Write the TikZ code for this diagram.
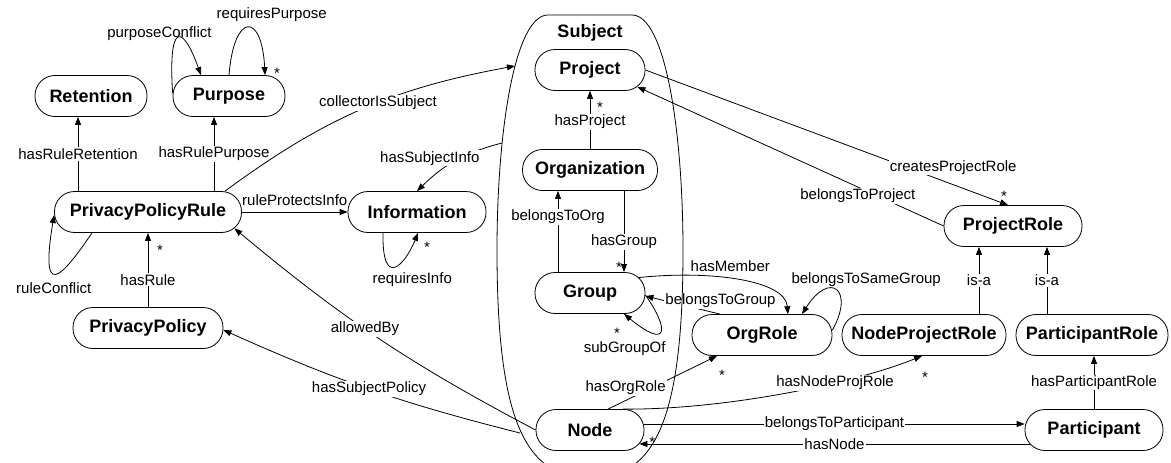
\documentclass[tikz,border=0pt]{standalone}
\usepackage{fontspec}
\setmainfont{Liberation Sans}
\usetikzlibrary{arrows.meta, positioning, calc}

\begin{document}
\begin{tikzpicture}[x=1pt, y=-1pt,
  concept/.style={draw, line width=0.8pt, rounded corners=20pt, minimum height=41pt, inner xsep=6pt, font=\bfseries\fontsize{18}{20}\selectfont},
  rel/.style={line width=0.8pt, -{Triangle[length=8pt, width=6pt]}},
  lbl/.style={fill=white, inner sep=1pt, font=\fontsize{15}{17}\selectfont},
  side/.style={lbl, fill=none},
  mult/.style={inner sep=0pt, font=\fontsize{15}{17}\selectfont}]
  \useasboundingbox (0,0) rectangle (1171,463);

  % Policy side
  \node[concept, minimum width=112pt] (ret) at (91,96) {Retention};
  \node[concept, minimum width=112pt] (purp) at (229,96) {Purpose};
  \node[concept, minimum width=187pt] (rule) at (148,212) {PrivacyPolicyRule};
  \node[concept, minimum width=138pt] (info) at (417,212) {Information};
  \node[concept, minimum width=150pt] (policy) at (148,328) {PrivacyPolicy};

  % Subject members
  \node[font=\bfseries\fontsize{18}{20}\selectfont] (subj) at (590,33) {Subject};
  \node[concept, minimum width=110pt] (proj) at (590,70) {Project};
  \node[concept, minimum width=135pt] (org) at (590,170) {Organization};
  \node[concept, minimum width=110pt] (grp) at (590,293) {Group};
  \node[concept, minimum width=108pt] (nd) at (590,430) {Node};

  % Roles
  \node[concept, minimum width=140pt] (orole) at (762,335) {OrgRole};
  \node[concept, minimum width=164pt] (nprole) at (924,335) {NodeProjectRole};
  \node[concept, minimum width=152pt] (parole) at (1092,335) {ParticipantRole};
  \node[concept, minimum width=138pt] (prole) at (1013,226) {ProjectRole};
  \node[concept, minimum width=138pt] (part) at (1094,430) {Participant};

  % Points on the Subject outline
  \coordinate (subjA) at (515,66);
  \coordinate (subjB) at (502,143);
  \coordinate (subjC) at (520,433);

  % Rule relations
  \draw[rel] ([xshift=-70pt]rule.north) -- ([xshift=-70pt]rule.north |- ret.south) node[lbl, midway] {hasRuleRetention};
  \draw[rel] ([xshift=66pt]rule.north) -- ([xshift=66pt]rule.north |- purp.south) node[lbl, midway] {hasRulePurpose};
  \draw[rel] ([yshift=3pt]purp.west) .. controls (168,20) and (183,25) .. ([xshift=-28pt]purp.north)
    node[side, pos=0.4, xshift=-16pt, yshift=7pt] {purposeConflict};
  \draw[rel] (purp.north) .. controls (234,12) and (262,12) .. ([xshift=36pt]purp.north)
    node[side, pos=0.5, xshift=24pt, yshift=13pt] {requiresPurpose}
    node[mult, pos=1, xshift=12pt, yshift=2pt] {*};
  \draw[rel] (rule.east) -- (info.west) node[side, midway, above=5pt] {ruleProtectsInfo};
  \draw[rel] ([xshift=77pt]rule.north) to[bend left=13] node[lbl, pos=0.56] {collectorIsSubject} (subjA);
  \draw[rel] (subjB) to[bend right=15] node[lbl, pos=0.45, xshift=-30pt] {hasSubjectInfo} (info.north);
  \draw[rel] ([xshift=-34pt]info.south) .. controls (382,290) and (405,265) .. ([xshift=1pt]info.south)
    node[side, pos=0.5, xshift=17pt, yshift=-13pt] {requiresInfo}
    node[mult, pos=1, xshift=9pt, yshift=-14pt] {*};
  \draw[rel] ([xshift=-56pt]rule.south) .. controls (60,280) and (40,300) .. ([yshift=-3pt]rule.west)
    node[side, pos=0.5, xshift=-2pt, yshift=-15pt] {ruleConflict};
  \draw[rel] (policy.north) -- (rule.south) node[lbl, pos=0.37] {hasRule}
    node[mult, pos=1, xshift=12pt, yshift=-17pt] {*};
  \draw[rel] (nd.west) to[bend left=6] node[lbl, pos=0.55] {allowedBy} ([xshift=-7.5pt, yshift=4.5pt]rule.south east);
  \draw[rel] (subjC) to[bend left=5] node[lbl] {hasSubjectPolicy} ([yshift=-2pt]policy.east);

  % Inside the subject
  \draw[rel] (org.north) -- (proj.south) node[lbl, pos=0.47] {hasProject}
    node[mult, pos=1, xshift=10pt, yshift=-16pt] {*};
  \draw[rel] ([xshift=-32pt]grp.north) -- ([xshift=-32pt]grp.north |- org.south) node[lbl, pos=0.68] {belongsToOrg};
  \draw[rel] ([xshift=34pt]org.south) -- ([xshift=34pt]org.south |- grp.north) node[lbl, pos=0.63] {hasGroup}
    node[mult, pos=1, xshift=-5pt, yshift=5pt] {*};
  \draw[rel] ([yshift=-2pt]grp.east) .. controls (670,330) and (668,350) .. ([xshift=34pt]grp.south)
    node[side, pos=0.7, xshift=-28pt, yshift=-16pt] {subGroupOf}
    node[mult, pos=1, xshift=-7pt, yshift=-19pt] {*};

  % Group and roles
  \draw[rel] ([xshift=-7pt, yshift=-5.5pt]grp.north east) .. controls (710,270) and (785,280) .. ([xshift=26pt]orole.north)
    node[side, pos=0.45, above=6pt] {hasMember};
  \draw[rel] ([xshift=-42pt]orole.north) -- ([yshift=-3pt]grp.east) node[lbl, pos=0.75, anchor=west] {belongsToGroup};
  \draw[rel] ([yshift=5pt]orole.east) .. controls (855,290) and (830,270) .. ([xshift=40pt]orole.north)
    node[side, pos=0.5, xshift=30pt, yshift=11pt] {belongsToSameGroup};
  \draw[rel] ([xshift=18pt]nd.north) -- ([xshift=-45pt]orole.south) node[lbl, pos=0.4, xshift=-26pt] {hasOrgRole}
    node[mult, pos=1, xshift=5pt, yshift=-19pt] {*};
  \draw[rel] ([xshift=33pt]nd.north) .. controls (720,410) and (850,385) .. ([xshift=-2pt]nprole.south)
    node[lbl, pos=0.67] {hasNodeProjRole}
    node[mult, pos=1, xshift=3pt, yshift=-21pt] {*};
  \draw[rel] ([yshift=6pt]nd.east) -- ([yshift=6pt]part.west) node[lbl, midway] {belongsToParticipant};
  \draw[rel] ([xshift=5pt, yshift=-14pt]part.west) -- ([xshift=-5pt, yshift=-14pt]nd.east) node[lbl, midway] {hasNode}
    node[mult, pos=1, xshift=13pt, yshift=2pt] {*};

  % Project roles
  \draw[rel] (prole.west) -- ([xshift=-8pt, yshift=4pt]proj.south east) node[lbl, pos=0.28, yshift=-9pt] {belongsToProject};
  \draw[rel] (proj.east) -- ([xshift=-5pt]prole.north) node[lbl, pos=0.72, anchor=west, xshift=-18pt] {createsProjectRole}
    node[mult, pos=1, xshift=-4pt, yshift=9pt] {*};
  \draw[rel] ([xshift=55pt]nprole.north) -- ([xshift=55pt]nprole.north |- prole.south) node[lbl, midway] {is-a};
  \draw[rel] ([xshift=-45pt]parole.north) -- ([xshift=-45pt]parole.north |- prole.south) node[lbl, midway] {is-a};
  \draw[rel] (part.north) -- (part.north |- parole.south) node[lbl, midway] {hasParticipantRole};

  % Subject outline
  \draw[line width=0.8pt] (548,15) -- (632,15) .. controls (665,15) and (683,130) .. (683,250)
    .. controls (683,420) and (655,478) .. (590,478) .. controls (525,478) and (497,420) .. (497,250)
    .. controls (497,130) and (515,15) .. cycle;
\end{tikzpicture}
\end{document}
